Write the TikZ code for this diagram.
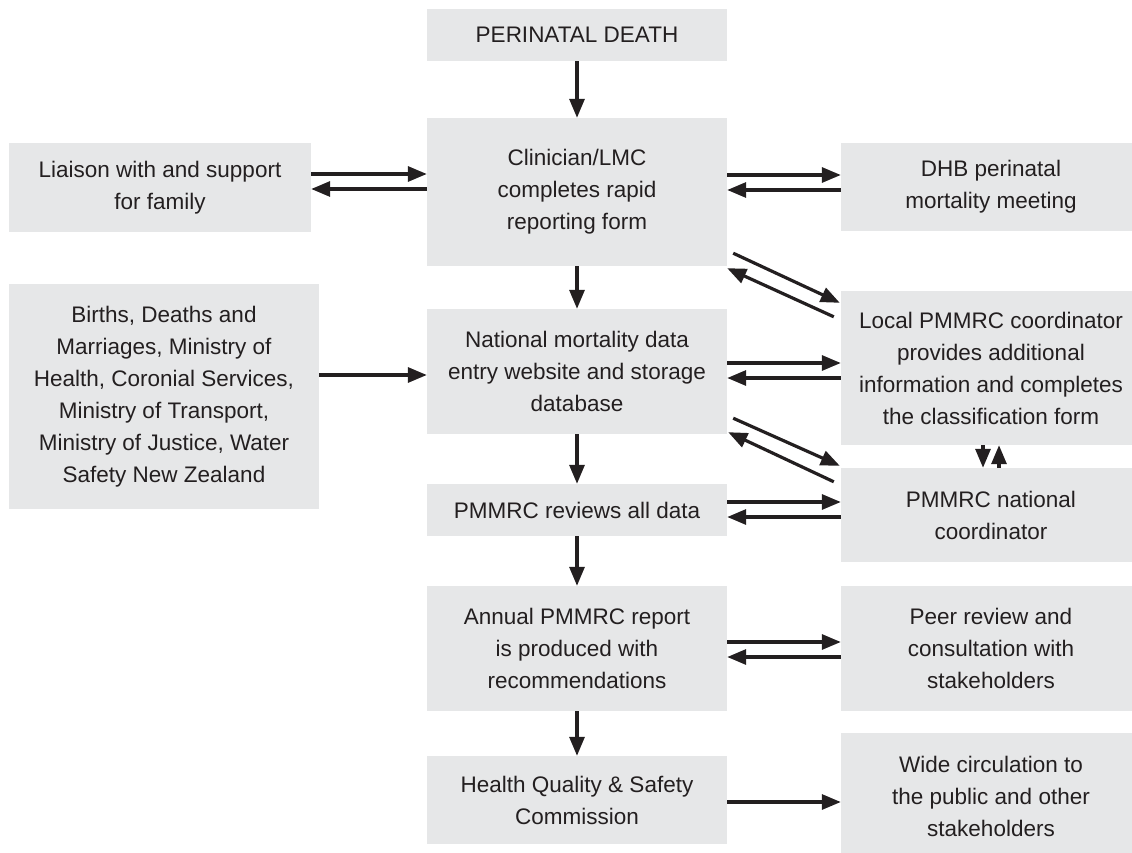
\documentclass[tikz,border=0pt]{standalone}
\usepackage{fontspec}
\setmainfont{Liberation Sans}
\usetikzlibrary{arrows.meta,calc}
\definecolor{boxgray}{HTML}{E6E7E8}
\definecolor{ink}{HTML}{231F20}
\begin{document}
\begin{tikzpicture}[x=1pt,y=-1pt,
  box/.style={fill=boxgray, draw=none, inner sep=0pt, align=center,
    text=ink, font=\fontsize{22.5}{32}\selectfont},
  arr/.style={draw=ink, line width=3.2pt, -{Triangle[length=19pt,width=15pt]}}]
\useasboundingbox (0,0) rectangle (1132,853);
\clip (0,0) rectangle (1132,853);
% centre column
\node[box, minimum width=300pt, minimum height=52pt]  (death)  at (577,35)    {PERINATAL DEATH};
\node[box, minimum width=300pt, minimum height=148pt] (clin)   at (577,192)   {Clinician/LMC\\completes rapid\\reporting form};
\node[box, minimum width=300pt, minimum height=125pt] (nat)    at (577,371.5) {National mortality data\\entry website and storage\\database};
\node[box, minimum width=300pt, minimum height=52pt]  (rev)    at (577,510)   {PMMRC reviews all data};
\node[box, minimum width=300pt, minimum height=125pt] (annual) at (577,648.5) {Annual PMMRC report\\is produced with\\recommendations};
\node[box, minimum width=300pt, minimum height=88pt]  (hq)     at (577,800)   {Health Quality \& Safety\\Commission};
% left column
\node[box, minimum width=302pt, minimum height=89pt]  (liaison) at (160,187.5) {Liaison with and support\\for family};
\node[box, minimum width=310pt, minimum height=225pt] (births)  at (164,396.5) {Births, Deaths and\\Marriages, Ministry of\\Health, Coronial Services,\\Ministry of Transport,\\Ministry of Justice, Water\\Safety New Zealand};
% right column
\node[box, minimum width=300pt, minimum height=88pt]  (dhb)   at (991,187)   {DHB perinatal\\mortality meeting};
\node[box, minimum width=300pt, minimum height=154pt] (local) at (991,368)   {Local PMMRC coordinator\\provides additional\\information and completes\\the classification form};
\node[box, minimum width=300pt, minimum height=94pt]  (natc)  at (991,515)   {PMMRC national\\coordinator};
\node[box, minimum width=300pt, minimum height=125pt] (peer)  at (991,648.5) {Peer review and\\consultation with\\stakeholders};
\node[box, minimum width=300pt, minimum height=126pt] (wide)  at (991,796)   {Wide circulation to\\the public and other\\stakeholders};
% vertical flow
\draw[arr] (death) -- (clin);
\draw[arr] (clin) -- (nat);
\draw[arr] (nat) -- (rev);
\draw[arr] (rev) -- (annual);
\draw[arr] (annual) -- (hq);
% liaison <-> clinician
\coordinate (l1) at ([yshift=13.5pt]liaison.east);
\coordinate (l2) at ([yshift=-1.5pt]liaison.east);
\draw[arr] (l1) -- (l1 -| clin.west);
\draw[arr] (l2 -| clin.west) -- (l2);
% clinician <-> DHB
\coordinate (d1) at ([yshift=12pt]dhb.west);
\coordinate (d2) at ([yshift=-3pt]dhb.west);
\draw[arr] (d1 -| clin.east) -- (d1);
\draw[arr] (d2) -- (d2 -| clin.east);
% clinician <-> local (diagonal)
\draw[arr] ([shift={(6pt,13pt)}]clin.south east) -- ([shift={(-1pt,-12pt)}]local.north west);
\draw[arr] ([shift={(-7pt,-26pt)}]local.north west) -- ([shift={(0pt,-2pt)}]clin.south east);
% births -> national
\coordinate (b1) at ([yshift=21.5pt]births.east);
\draw[arr] (b1) -- (b1 -| nat.west);
% national <-> local
\coordinate (n1) at ([yshift=8.5pt]nat.east);
\coordinate (n2) at ([yshift=-6.5pt]nat.east);
\draw[arr] (n1) -- (n1 -| local.west);
\draw[arr] (n2 -| local.west) -- (n2);
% national <-> national coordinator (diagonal)
\draw[arr] ([shift={(6pt,16pt)}]nat.south east) -- ([shift={(-1pt,2pt)}]natc.north west);
\draw[arr] ([shift={(-7pt,-14pt)}]natc.north west) -- ([shift={(1pt,2pt)}]nat.south east);
% local <-> national coordinator
\coordinate (v1) at ([xshift=-8pt]local.south);
\coordinate (v2) at ([xshift=8pt]local.south);
\draw[arr] (v1) -- (v1 |- natc.north);
\draw[arr] (v2 |- natc.north) -- (v2);
% reviews <-> national coordinator
\coordinate (r1) at ([yshift=8pt]rev.east);
\coordinate (r2) at ([yshift=-7pt]rev.east);
\draw[arr] (r1) -- (r1 -| natc.west);
\draw[arr] (r2 -| natc.west) -- (r2);
% annual <-> peer
\coordinate (a1) at ([yshift=6.5pt]annual.east);
\coordinate (a2) at ([yshift=-8.5pt]annual.east);
\draw[arr] (a1) -- (a1 -| peer.west);
\draw[arr] (a2 -| peer.west) -- (a2);
% health quality -> wide circulation
\coordinate (h1) at ([yshift=-2pt]hq.east);
\draw[arr] (h1) -- (h1 -| wide.west);
\end{tikzpicture}
\end{document}
